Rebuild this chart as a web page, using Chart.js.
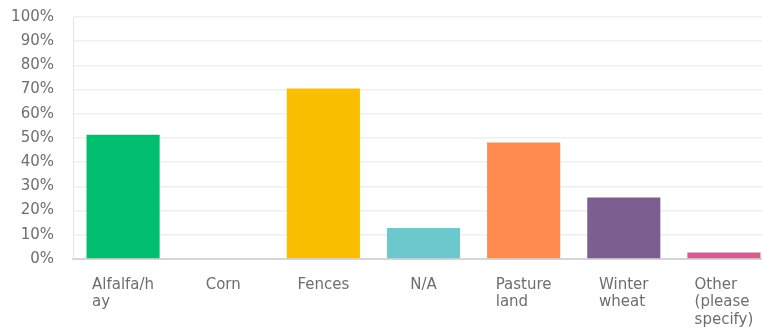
<!DOCTYPE html>
<html>
<head>
<meta charset="utf-8">
<script src="https://cdn.jsdelivr.net/npm/chart.js@4.4.1/dist/chart.umd.min.js"></script>
<style>
  html, body { margin: 0; padding: 0; background: #ffffff; overflow: hidden; }
  #wrap { width: 762px; height: 329px; overflow: hidden; }
  canvas { display: block; }
</style>
</head>
<body>
<div id="wrap"><canvas id="chart" width="774" height="329"></canvas></div>
<script>
// Answer choices (each entry holds the wrapped lines of the label)
const categories = [
  ['Alfalfa/h', 'ay'],
  ['Corn'],
  ['Fences'],
  ['N/A'],
  ['Pasture', 'land'],
  ['Winter', 'wheat'],
  ['Other', '(please', 'specify)']
];
// Share of respondents, percent
const percentages = [51.3, 0, 70.5, 12.8, 48.1, 25.4, 2.7];
const barColors = ['#00BF6F', '#F9BE00', '#F9BE00', '#6BC8CD', '#FF8B4F', '#7D5E90', '#D25F90'];
// Y axis ticks
const yTicks = [0, 10, 20, 30, 40, 50, 60, 70, 80, 90, 100];

const FONT_FAMILY = '"DejaVu Sans", sans-serif';
const FONT_SIZE = 15;
const TEXT_COLOR = '#6e6e6e';

// Multi-line category labels: block centred under the bar, lines left-aligned
const categoryLabels = {
  id: 'categoryLabels',
  afterDraw(chart) {
    const { ctx } = chart;
    const x = chart.scales.x;
    ctx.save();
    ctx.font = FONT_SIZE + 'px ' + FONT_FAMILY;
    ctx.fillStyle = TEXT_COLOR;
    ctx.textAlign = 'left';
    ctx.textBaseline = 'middle';
    const lineHeight = 17.5;
    const firstLine = x.bottom + 26;
    categories.forEach((lines, i) => {
      const cx = x.getPixelForValue(i);
      const w = Math.max(...lines.map(l => ctx.measureText(l).width));
      lines.forEach((line, j) => ctx.fillText(line, cx - w / 2, firstLine + j * lineHeight));
    });
    ctx.restore();
  }
};

new Chart(document.getElementById('chart'), {
  type: 'bar',
  data: {
    labels: categories.map(l => l.join(' ')),
    datasets: [{
      data: percentages,
      backgroundColor: barColors,
      borderWidth: 0,
      barPercentage: 0.73,
      categoryPercentage: 1.0
    }]
  },
  options: {
    responsive: false,
    animation: false,
    layout: { padding: { top: 17, right: 0, bottom: 70, left: 0 } },
    plugins: { legend: { display: false }, tooltip: { enabled: false } },
    scales: {
      x: {
        grid: { display: false, drawTicks: false },
        border: { display: true, color: '#d6d6d6', width: 2 },
        ticks: { display: false }
      },
      y: {
        min: 0,
        max: 100,
        afterFit(scale) {
          scale.width = 73;
          scale.paddingTop = 0;
          scale.paddingBottom = 0;
        },
        afterBuildTicks(scale) { scale.ticks = yTicks.map(v => ({ value: v })); },
        grid: { color: '#efefef', lineWidth: 1.5, drawTicks: false },
        border: { display: true, color: '#e4e4e4', width: 1 },
        ticks: {
          padding: 19,
          color: TEXT_COLOR,
          font: { family: FONT_FAMILY, size: FONT_SIZE },
          callback: v => v + '%'
        }
      }
    }
  },
  plugins: [categoryLabels]
});
</script>
</body>
</html>
